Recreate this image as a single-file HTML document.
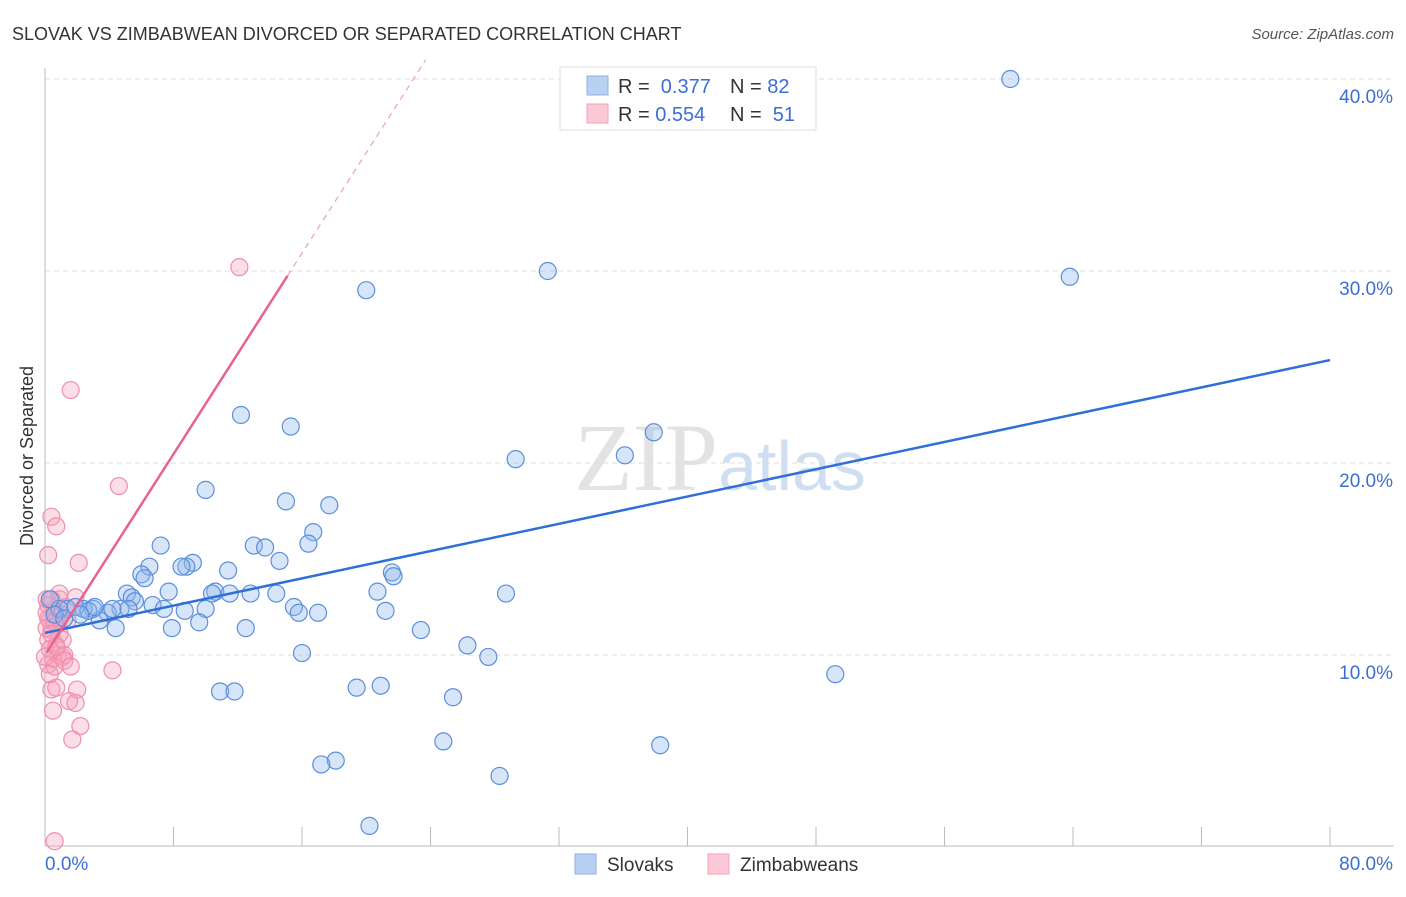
<!DOCTYPE html>
<html><head><meta charset="utf-8"><style>
body{margin:0;background:#fff;font-family:"Liberation Sans",sans-serif}
</style></head><body>
<svg id="chart" width="1406" height="892" xmlns="http://www.w3.org/2000/svg" font-family="Liberation Sans, sans-serif">
<text x="12" y="40" font-size="18" fill="#333">SLOVAK VS ZIMBABWEAN DIVORCED OR SEPARATED CORRELATION CHART</text>
<text x="1394" y="39" font-size="15" fill="#555" text-anchor="end" font-style="italic">Source: ZipAtlas.com</text>
<text x="720" y="490" font-size="96" text-anchor="middle" fill="#ddd" opacity="0.8" font-family="Liberation Serif, serif">ZIP<tspan fill="#c5d6ee" font-family="Liberation Sans, sans-serif" font-size="70">atlas</tspan></text>
<text transform="translate(33,456) rotate(-90)" font-size="18" fill="#333" text-anchor="middle">Divorced or Separated</text>
<g id="grid"></g><g id="axes"></g><g id="pinkpts"></g><g id="bluepts"></g><g id="lines"></g>
<g>
<rect x="560" y="67" width="256" height="63" fill="#fff" stroke="#ddd"/>
<rect x="587" y="76" width="21" height="19" fill="#b8d0f2" stroke="#8db0e6"/>
<rect x="587" y="104" width="21" height="19" fill="#fbc8d6" stroke="#f0a2b9"/>
<text x="618" y="93" font-size="20" fill="#333">R = <tspan fill="#3b6fd4">&#160;0.377</tspan><tspan x="730">N = </tspan><tspan fill="#3b6fd4">82</tspan></text>
<text x="618" y="121" font-size="20" fill="#333">R = <tspan fill="#3b6fd4">0.554</tspan><tspan x="730">N = </tspan><tspan fill="#3b6fd4">&#160;51</tspan></text>
</g>
<g>
<rect x="575" y="854" width="21" height="20" fill="#b8d0f2" stroke="#8db0e6"/>
<text x="607" y="871" font-size="19" fill="#333">Slovaks</text>
<rect x="708" y="854" width="21" height="20" fill="#fbc8d6" stroke="#f0a2b9"/>
<text x="740" y="871" font-size="19" fill="#333">Zimbabweans</text>
</g>
</svg>
<script>
const yTicks=[10,20,30,40];
const xTickLabels=["0.0%","80.0%"];
const blueX=[60.1,31.3,63.8,20.0,12.2,15.3,37.9,36.1,29.3,10.0,15.0,17.7,16.7,16.4,7.2,13.0,13.7,14.6,9.2,8.8,8.5,6.5,6.0,6.2,21.6,21.7,11.4,28.7,20.7,7.7,10.6,10.4,12.8,11.5,14.4,5.1,5.4,5.6,6.7,10.0,7.4,8.7,15.5,21.2,15.8,17.0,4.7,3.9,3.0,1.4,2.4,0.9,3.4,4.4,7.9,9.6,12.5,23.4,26.3,27.6,16.0,49.2,10.9,11.8,19.4,20.9,25.4,24.8,38.3,18.1,17.2,28.3,20.2,0.3,0.6,1.9,2.7,1.2,4.2,5.2,3.1,2.2];
const blueY=[40.0,30.0,29.7,29.0,22.5,21.9,21.6,20.4,20.2,18.6,18.0,17.8,16.4,15.8,15.7,15.7,15.6,14.9,14.8,14.6,14.6,14.6,14.2,14.0,14.3,14.1,14.4,13.2,13.3,13.3,13.3,13.2,13.2,13.2,13.2,13.2,13.0,12.8,12.6,12.4,12.4,12.3,12.5,12.3,12.2,12.2,12.4,12.2,12.4,12.4,12.4,12.4,11.8,11.4,11.4,11.7,11.4,11.3,10.5,9.9,10.1,9.0,8.1,8.1,8.3,8.4,7.8,5.5,5.3,4.5,4.3,3.7,1.1,12.9,12.1,12.5,12.3,11.9,12.4,12.4,12.5,12.1];
const pinkX=[12.1,1.6,4.6,0.4,0.7,0.2,2.1,0.9,1.9,0.2,0.6,1.0,0.3,0.8,1.4,0.4,0.9,0.2,0.7,1.1,0.3,0.8,1.2,0.5,1.1,0.2,0.6,4.2,0.4,2.0,0.7,1.5,1.9,0.5,2.2,1.7,0.6,0.1,0.2,0.6,0.1,0.4,0.7,1.2,1.6,0.0,0.3,0.9,1.3,0.1,0.4];
const pinkY=[30.2,23.8,18.8,17.2,16.7,15.2,14.8,13.2,13.0,12.6,12.3,12.1,11.8,11.6,11.8,11.3,11.1,10.8,10.5,10.8,10.3,10.0,10.0,9.8,9.9,9.5,9.4,9.2,8.2,8.2,8.3,7.6,7.5,7.1,6.3,5.6,0.3,12.2,11.9,11.7,11.4,11.1,10.4,9.7,9.4,9.9,9.0,12.9,12.5,12.9,12.9];
const blueLine=[11.15,25.36];
const pinkIntercept=10.0, pinkSlope=1.308, pinkSolidEnd=15.1;
const NS="http://www.w3.org/2000/svg";
const X=v=>45+v*16.0625, Y=v=>847-v*19.2;
function mk(tag,attrs,parent){const e=document.createElementNS(NS,tag);for(const k in attrs)e.setAttribute(k,attrs[k]);document.getElementById(parent).appendChild(e);return e;}
yTicks.forEach(t=>{
 const l=mk('line',{x1:45,x2:1394,y1:Y(t),y2:Y(t),stroke:'#ddd','stroke-dasharray':'5,4'},'grid');
 
 
 const tx=mk('text',{x:1393,y:Y(t)+24,'font-size':19,fill:'#3b6fd4','text-anchor':'end'},'grid');
 tx.textContent=t.toFixed(1)+'%';
 
 
});
const ax=mk('line',{x1:45,x2:45,y1:68,y2:846,stroke:'#bbb'},'axes');


const bx=mk('line',{x1:45,x2:1394,y1:846,y2:846,stroke:'#bbb'},'axes');


for(let i=1;i<=10;i++){const t=mk('line',{x1:X(i*8),x2:X(i*8),y1:827,y2:846,stroke:'#bbb'},'axes');
 
 }
[[0,45,'start'],[80,1393,'end']].forEach((d,i)=>{const t=mk('text',{x:d[1],y:870,'font-size':19,fill:'#3b6fd4','text-anchor':d[2]},'axes');t.textContent=xTickLabels[i];
 
 });
pinkX.forEach((v,i)=>{const c=mk('circle',{cx:X(v),cy:Y(pinkY[i]),r:8.5,fill:'rgba(245,160,185,0.35)',stroke:'#ee8fae','stroke-width':1.2},'pinkpts');
 
 });
blueX.forEach((v,i)=>{const c=mk('circle',{cx:X(v),cy:Y(blueY[i]),r:8.5,fill:'rgba(140,180,235,0.35)',stroke:'#5b8fdc','stroke-width':1.2},'bluepts');
 
 });
const bl=mk('line',{x1:X(0),y1:Y(blueLine[0]),x2:X(80),y2:Y(blueLine[1]),stroke:'#2f6fd6','stroke-width':2.5},'lines');


const pl=mk('line',{x1:X(0.1),y1:Y(pinkIntercept+0.1*pinkSlope),x2:X(pinkSolidEnd),y2:Y(pinkIntercept+pinkSolidEnd*pinkSlope),stroke:'#e8628e','stroke-width':2.5},'lines');


const xe=(41-pinkIntercept)/pinkSlope;
const pd=mk('line',{x1:X(pinkSolidEnd),y1:Y(pinkIntercept+pinkSolidEnd*pinkSlope),x2:X(xe),y2:Y(41),stroke:'#eaa0b8','stroke-width':1.2,'stroke-dasharray':'6,5'},'lines');


</script>
</body></html>
